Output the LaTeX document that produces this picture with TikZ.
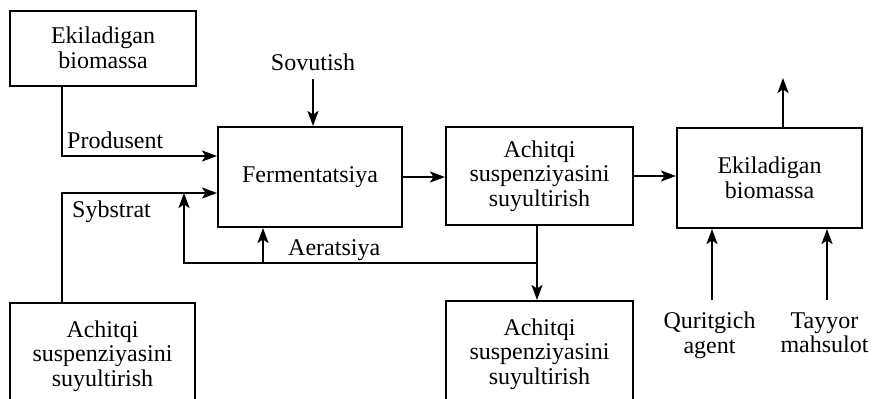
\documentclass[tikz,border=0pt]{standalone}
\usepackage{fontspec}
\setmainfont{Liberation Serif}
\usetikzlibrary{arrows.meta}
\begin{document}
\begin{tikzpicture}[x=1pt,y=-1pt,
  every node/.style={font=\fontsize{24}{24.5}\selectfont},
  box/.style={draw, line width=2pt, align=center, inner sep=0pt},
  lbl/.style={inner sep=0pt, align=center},
  arr/.style={line width=2pt, -{Stealth[length=15pt,width=11pt,inset=3.5pt]}}]
\useasboundingbox (0,0) rectangle (873,399);
\clip (0,0) rectangle (873,399);
% boxes
\node[box, minimum width=186pt, minimum height=75pt] (b1) at (103,48) {Ekiladigan\\biomassa};
\node[box, minimum width=185pt, minimum height=106pt, anchor=north] (b2) at (102.5,302) {Achitqi\\suspenziyasini\\suyultirish};
\node[box, minimum width=184pt, minimum height=100pt] (ferm) at (310,177) {Fermentatsiya};
\node[box, minimum width=187pt, minimum height=98pt] (b3) at (539.5,176) {Achitqi\\suspenziyasini\\suyultirish};
\node[box, minimum width=187pt, minimum height=106pt, anchor=north] (b4) at (539.5,300) {Achitqi\\suspenziyasini\\suyultirish};
\node[box, minimum width=185pt, minimum height=100pt] (b5) at (769.5,178) {Ekiladigan\\biomassa};
% labels
\node[lbl, anchor=base] (sov) at (313,70) {Sovutish};
\node[lbl, anchor=west] (prod) at (67,140) {Produsent};
\node[lbl, anchor=base west] (syb) at (72,217) {Sybstrat};
\node[lbl, anchor=base west] (aer) at (288,255) {Aeratsiya};
\node[lbl] (qur) at (709.5,335.5) {Quritgich\\agent};
\node[lbl] (tay) at (824.5,333) {Tayyor\\mahsulot};
% coordinates
\coordinate (p1) at (62,156);
\coordinate (s1) at (62,193);
\coordinate (j) at (537,263);
\coordinate (f1) at (184,263);
\coordinate (a1) at (263,263);
\coordinate (sv) at (313,79);
\coordinate (out) at (783,78);
\coordinate (qt) at (712,300);
\coordinate (tt) at (827,300);
% connectors
\draw[arr] (b1.south -| p1) -- (p1) -- (p1 -| ferm.west);
\draw[arr] (b2.north -| s1) -- (s1) -- (s1 -| ferm.west);
\draw[arr] (j) -- (f1) -- (f1 |- s1);
\draw[arr] (a1) -- (a1 |- ferm.south);
\draw[arr] (b3.south -| j) -- (b4.north -| j);
\draw[arr] (ferm.east) -- (ferm.east -| b3.west);
\draw[arr] (b3.east) -- (b3.east -| b5.west);
\draw[arr] (sv) -- (sv |- ferm.north);
\draw[arr] (b5.north -| out) -- (out);
\draw[arr] (qt) -- (qt |- b5.south);
\draw[arr] (tt) -- (tt |- b5.south);
\end{tikzpicture}
\end{document}
